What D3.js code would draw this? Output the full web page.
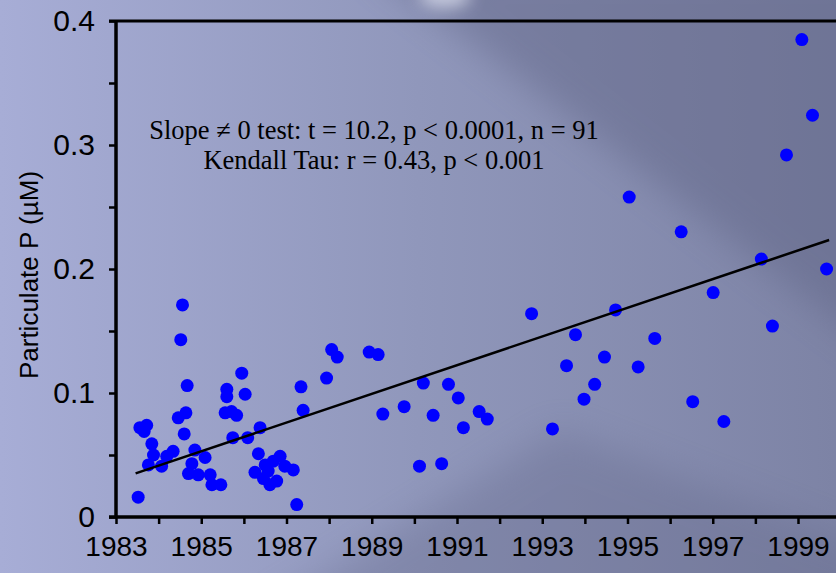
<!DOCTYPE html>
<html>
<head>
<meta charset="utf-8">
<script src="https://cdn.jsdelivr.net/npm/d3@7"></script>
<style>
  body { margin: 0; padding: 0; overflow: hidden; }
  svg { display: block; }
</style>
</head>
<body>
<script>
// sample dates (decimal year) and particulate P values (µM)
var years = [
  1983.52, 1983.56, 1983.72, 1983.66, 1983.84, 1983.88, 1983.76, 1984.07, 1984.19, 1984.34,
  1984.46, 1984.64, 1984.60, 1984.85, 1985.09, 1984.78, 1984.70, 1984.93, 1985.21, 1985.25,
  1985.46, 1984.56, 1984.52, 1984.67, 1985.95, 1985.60, 1985.60, 1986.03, 1985.56, 1985.71,
  1985.83, 1985.74, 1986.09, 1986.38, 1986.34, 1986.26, 1986.50, 1986.69, 1986.85, 1986.96,
  1987.16, 1986.46, 1986.61, 1986.77, 1986.57, 1987.24, 1987.39, 1987.34, 1987.94, 1988.06,
  1988.19, 1988.94, 1989.15, 1989.26, 1989.76, 1990.21, 1990.80, 1991.03, 1990.44, 1991.52,
  1991.71, 1991.15, 1990.12, 1990.64, 1992.75, 1993.24, 1993.57, 1993.78, 1993.98, 1994.23,
  1994.46, 1994.72, 1995.04, 1995.25, 1995.64, 1996.26, 1996.53, 1997.01, 1997.26, 1998.14,
  1998.40, 1998.73, 1999.09, 1999.34, 1999.67
];
var partP = [
  0.016, 0.072, 0.074, 0.069, 0.059, 0.050, 0.042, 0.041, 0.049, 0.053,
  0.080, 0.084, 0.067, 0.054, 0.048, 0.043, 0.035, 0.034, 0.034, 0.026,
  0.026, 0.171, 0.143, 0.106, 0.116, 0.103, 0.097, 0.099, 0.084, 0.085,
  0.082, 0.064, 0.064, 0.072, 0.051, 0.036, 0.042, 0.045, 0.049, 0.041,
  0.038, 0.031, 0.026, 0.029, 0.037, 0.010, 0.086, 0.105, 0.112, 0.135,
  0.129, 0.133, 0.131, 0.083, 0.089, 0.108, 0.107, 0.096, 0.082, 0.085,
  0.079, 0.072, 0.041, 0.043, 0.164, 0.071, 0.122, 0.147, 0.095, 0.107,
  0.129, 0.167, 0.258, 0.121, 0.144, 0.230, 0.093, 0.181, 0.077, 0.208,
  0.154, 0.292, 0.385, 0.324, 0.200
];

// fitted trend line end points
var trendYears = [1983.46, 1999.73];
var trendP = [0.0352, 0.2234];

var yearTicks = d3.range(1983, 2001);
var pTicks = [0, 0.05, 0.1, 0.15, 0.2, 0.25, 0.3, 0.35, 0.4];

var statLines = [
  "Slope \u2260 0 test: t = 10.2, p < 0.0001, n = 91",
  "Kendall Tau: r = 0.43, p < 0.001"
];

var width = 836;
var height = 573;

var svg = d3.select("body").append("svg")
  .attr("width", width)
  .attr("height", height);

// background
var defs = svg.append("defs");
var bg = defs.append("linearGradient").attr("id", "bg")
  .attr("x1", "0").attr("y1", "0").attr("x2", "1").attr("y2", "0");
bg.append("stop").attr("offset", "0%").attr("stop-color", "#a7add6");
bg.append("stop").attr("offset", "50%").attr("stop-color", "#9097bb");
bg.append("stop").attr("offset", "100%").attr("stop-color", "#7d83a5");

defs.append("filter").attr("id", "soft")
  .attr("x", "-50%").attr("y", "-50%").attr("width", "200%").attr("height", "200%")
  .append("feGaussianBlur").attr("stdDeviation", 18);
defs.append("filter").attr("id", "glow")
  .attr("x", "-100%").attr("y", "-100%").attr("width", "300%").attr("height", "300%")
  .append("feGaussianBlur").attr("stdDeviation", 8);

svg.append("rect").attr("width", width).attr("height", height).attr("fill", "url(#bg)");
svg.append("path")
  .attr("d", "M365,-40 L900,-40 L900,370 Z")
  .attr("fill", "#5f6484").attr("opacity", 0.45).attr("filter", "url(#soft)");
svg.append("path")
  .attr("d", "M250,620 L900,620 L900,560 L560,430 Z")
  .attr("fill", "#5f6484").attr("opacity", 0.3).attr("filter", "url(#soft)");
svg.append("ellipse")
  .attr("cx", 445).attr("cy", -4).attr("rx", 26).attr("ry", 12)
  .attr("fill", "#e4e7f5").attr("opacity", 0.7).attr("filter", "url(#glow)");

var xScale = d3.scaleLinear()
  .domain([1983, 1999])
  .range([116, 798]);

var yScale = d3.scaleLinear()
  .domain([0, 0.4])
  .range([517, 21]);

// axes
var xAxis = d3.axisBottom(xScale)
  .tickValues(yearTicks)
  .tickSize(7)
  .tickSizeOuter(0)
  .tickFormat(function(d){ return d % 2 == 1 ? d : ""; });

var yAxis = d3.axisLeft(yScale)
  .tickValues(pTicks)
  .tickSize(7)
  .tickSizeOuter(0)
  .tickFormat(function(d){
    var r = Math.round(d * 100) / 100;
    if (r == 0) return "0";
    return (Math.round(r * 20) % 2 == 0) ? d3.format(".1f")(r) : "";
  });

var gx = svg.append("g")
  .attr("transform", "translate(0," + yScale(0) + ")")
  .call(xAxis);
gx.select(".domain").remove();
gx.selectAll("line").attr("stroke", "#000").attr("stroke-width", 2.5);
gx.selectAll("text")
  .attr("fill", "#000")
  .attr("dy", "1.05em")
  .style("font-family", "'Liberation Sans', Arial, sans-serif")
  .style("font-size", "28px");

var gy = svg.append("g")
  .attr("transform", "translate(" + xScale(1983) + ",0)")
  .call(yAxis);
gy.select(".domain").remove();
gy.selectAll("line").attr("stroke", "#000").attr("stroke-width", 2.5);
gy.selectAll("text")
  .attr("fill", "#000")
  .attr("x", -21)
  .style("font-family", "'Liberation Sans', Arial, sans-serif")
  .style("font-size", "30px");

// axis lines and top frame
svg.append("line")
  .attr("x1", xScale(1983) - 7).attr("x2", width)
  .attr("y1", yScale(0)).attr("y2", yScale(0))
  .attr("stroke", "#000").attr("stroke-width", 3.5);
svg.append("line")
  .attr("x1", xScale(1983)).attr("x2", xScale(1983))
  .attr("y1", yScale(0.4)).attr("y2", yScale(0))
  .attr("stroke", "#000").attr("stroke-width", 3.5);
svg.append("line")
  .attr("x1", xScale(1983) - 7).attr("x2", width)
  .attr("y1", yScale(0.4)).attr("y2", yScale(0.4))
  .attr("stroke", "#000").attr("stroke-width", 3);

// y axis title
svg.append("text")
  .attr("transform", "translate(38," + ((yScale(0) + yScale(0.4)) / 2 + 6) + ") rotate(-90)")
  .attr("text-anchor", "middle")
  .style("font-family", "'Liberation Sans', Arial, sans-serif")
  .style("font-size", "26px")
  .attr("fill", "#000")
  .text("Particulate P (\u00b5M)");

// points
var points = years.map(function(d, i){ return {year: d, p: partP[i]}; });
svg.append("g")
  .selectAll("circle")
  .data(points)
  .enter()
  .append("circle")
  .attr("cx", function(d){ return xScale(d.year); })
  .attr("cy", function(d){ return yScale(d.p); })
  .attr("r", 6.5)
  .attr("fill", "#0000ff");

// trend line
var trend = trendYears.map(function(d, i){ return [d, trendP[i]]; });
svg.append("path")
  .datum(trend)
  .attr("fill", "none")
  .attr("stroke", "#000")
  .attr("stroke-width", 2.5)
  .attr("d", d3.line()
    .x(function(d){ return xScale(d[0]); })
    .y(function(d){ return yScale(d[1]); }));

// stats text
svg.append("g")
  .selectAll("text")
  .data(statLines)
  .enter()
  .append("text")
  .attr("x", 374)
  .attr("y", function(d, i){ return 139 + i * 30; })
  .attr("text-anchor", "middle")
  .style("font-family", "'Liberation Serif', 'Times New Roman', serif")
  .style("font-size", "26.5px")
  .attr("fill", "#000")
  .text(function(d){ return d; });
</script>
</body>
</html>
